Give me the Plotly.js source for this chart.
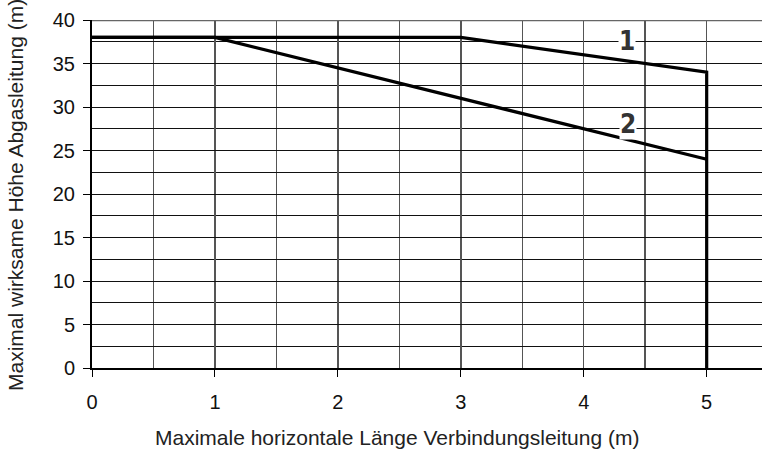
<!DOCTYPE html>
<html>
<head>
<meta charset="utf-8">
<script src="https://cdn.plot.ly/plotly-3.0.1.min.js"></script>
<style>html,body{margin:0;padding:0;background:#fff;}#chart{width:762px;height:450px;}</style>
</head>
<body>
<div id="chart"></div>
<script>
// Curve 1
const curve1X = [0, 3, 5, 5];
const curve1Y = [38, 38, 34, 0];
// Curve 2
const curve2X = [0, 1, 5];
const curve2Y = [38, 38, 24];
// Curve labels
const labelText = ["1", "2"];
const labelX = [4.35, 4.36];
const labelY = [37.6, 28.1];
const xTicks = [0, 1, 2, 3, 4, 5];
const yTicks = [0, 5, 10, 15, 20, 25, 30, 35, 40];

const font = "Liberation Sans, Arial, sans-serif";
const traces = [
  {x: curve1X, y: curve1Y, mode: "lines", line: {color: "#000", width: 3.2}, hoverinfo: "skip"},
  {x: curve2X, y: curve2Y, mode: "lines", line: {color: "#000", width: 3.2}, hoverinfo: "skip"}
];
const annotations = labelText.map((t, i) => ({
  x: labelX[i], y: labelY[i], xref: "x", yref: "y", text: "<b>" + t + "</b>",
  showarrow: false, bgcolor: "#fff", borderpad: 0,
  font: {family: "Liberation Sans Narrow, DejaVu Sans Condensed, DejaVu Sans, sans-serif", size: 26, color: "#333"}
}));
annotations.push({
  text: "Maximale horizontale Länge Verbindungsleitung (m)", xref: "paper", yref: "paper",
  x: 0.455, y: -0.2, showarrow: false, xanchor: "center", yanchor: "middle",
  font: {family: font, size: 21, color: "#222"}
});
annotations.push({
  text: "Maximal wirksame Höhe Abgasleitung (m)", xref: "paper", yref: "paper",
  x: -0.115, y: 0.497, showarrow: false, xanchor: "center", yanchor: "middle", textangle: -90,
  font: {family: font, size: 21, color: "#222"}
});
const layout = {
  width: 762, height: 450,
  margin: {l: 92, r: 0, t: 20, b: 82},
  paper_bgcolor: "#fff", plot_bgcolor: "#fff",
  showlegend: false,
  font: {family: font, color: "#111"},
  xaxis: {
    range: [0, 5.45], tickvals: xTicks, ticktext: xTicks.map(String),
    ticks: "outside", ticklen: 7, tickcolor: "#000", tickwidth: 1,
    ticklabelstandoff: 8,
    showline: true, linecolor: "#000", linewidth: 2,
    showgrid: true, gridcolor: "#555", gridwidth: 1.5,
    minor: {dtick: 0.5, tick0: 0, showgrid: true, gridcolor: "#555", gridwidth: 1.5, ticks: ""},
    zeroline: false, tickfont: {size: 20, color: "#111"}, fixedrange: true
  },
  yaxis: {
    range: [0, 40], tickvals: yTicks, ticktext: yTicks.map(String),
    ticks: "outside", ticklen: 7, tickcolor: "#000", tickwidth: 1,
    ticklabelstandoff: 4,
    showline: true, linecolor: "#000", linewidth: 2,
    showgrid: true, gridcolor: "#111", gridwidth: 1,
    minor: {dtick: 2.5, tick0: 0, showgrid: true, gridcolor: "#111", gridwidth: 1, ticks: ""},
    zeroline: false, tickfont: {size: 20, color: "#111"},
    fixedrange: true
  },
  shapes: [
    {type: "line", xref: "paper", yref: "y", x0: 0, x1: 1, y0: 40, y1: 40, line: {color: "#666", width: 2.5}}
  ],
  annotations: annotations
};
Plotly.newPlot("chart", traces, layout, {displayModeBar: false, staticPlot: true});
</script>
</body>
</html>
